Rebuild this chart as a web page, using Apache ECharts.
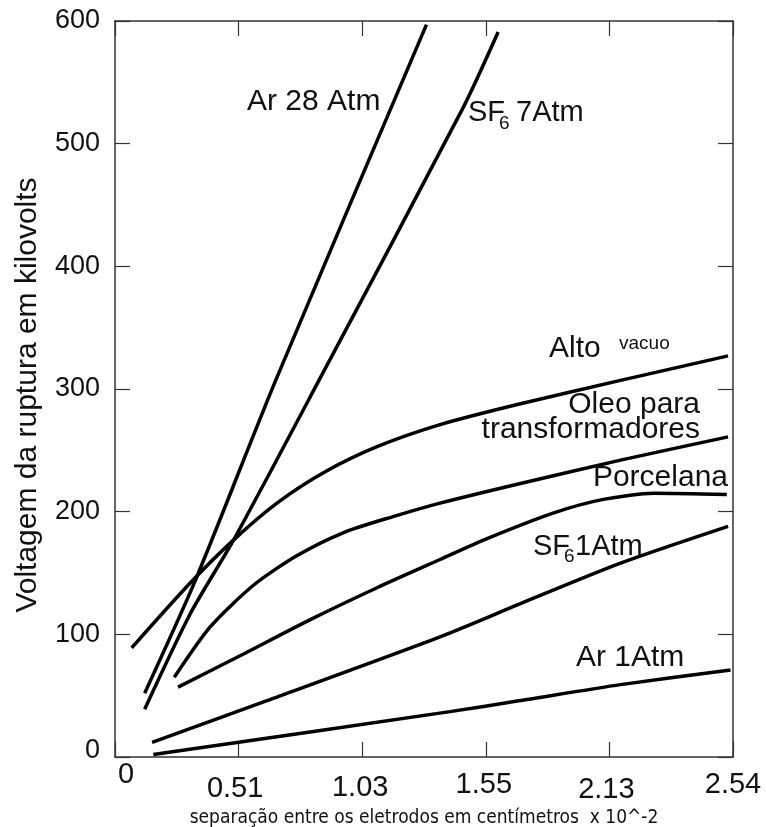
<!DOCTYPE html>
<html>
<head>
<meta charset="utf-8">
<script src="https://cdn.jsdelivr.net/npm/echarts@6/dist/echarts.min.js"></script>
<style>
  body { margin: 0; background: #fff; }
  #chart { width: 766px; height: 827px; }
</style>
</head>
<body>
<div id="chart"></div>
<script>
// x positions are in axis-step units (0..5), each step labelled by xTickLabels
const xTickLabels = ['0', '0.51', '1.03', '1.55', '2.13', '2.54'];

const ar28Atm = [[0.24, 52], [0.65, 144], [1.30, 307], [2.52, 597]];
const sf6_7Atm = [[0.24, 39], [0.61, 117], [0.96, 177], [1.65, 307], [2.82, 530], [3.10, 591]];
const altoVacuo = [[0.135, 89], [0.61, 142], [0.96, 177], [1.31, 207], [1.69, 232], [2.12, 253], [2.63, 271], [3.28, 288], [4.09, 307], [4.96, 327]];
const oleoTransf = [[0.48, 65], [0.77, 106], [1.12, 140], [1.47, 164], [1.85, 183], [2.25, 196], [2.63, 207], [3.28, 223], [4.09, 242], [4.96, 261]];
const porcelana = [[0.51, 57], [1.04, 84], [1.58, 112], [2.12, 138], [2.63, 161], [3.01, 178], [3.55, 199], [3.95, 210], [4.36, 215], [4.95, 214]];
const sf6_1Atm = [[0.30, 12], [1.23, 46], [2.63, 98], [3.28, 125], [4.09, 158], [4.96, 188]];
const ar1Atm = [[0.31, 2], [2.71, 37], [3.28, 46], [4.09, 59], [4.98, 71]];

const FONT = '"Liberation Sans", Arial, sans-serif';
const chart = echarts.init(document.getElementById('chart'));

// per-label nudges so the tick labels sit like the original scan
const xLabelRich = {
    t0: { padding: [0, 0, 0, 22] },
    t1: { padding: [27, 7, 0, 0] },
    t2: { padding: [25, 4, 0, 0] },
    t3: { padding: [19, 4, 0, 0] },
    t4: { padding: [29, 6, 0, 0] },
    t5: { padding: [19, 0, 0, 0] }
};
Object.keys(xLabelRich).forEach(k => {
    Object.assign(xLabelRich[k], { fontSize: 29, lineHeight: 30, fontFamily: FONT, color: '#111' });
});

const axisLine = { show: true, onZero: false, lineStyle: { color: '#333', width: 1.5 } };
const axisTick = { show: true, inside: true, length: 15, lineStyle: { color: '#333', width: 1.2 } };

function line(data) {
    return {
        type: 'line',
        data: data,
        smooth: 0.25,
        showSymbol: false,
        silent: true,
        lineStyle: { color: '#000', width: 3.5, cap: 'butt' }
    };
}

function label(text, x, y, size, align) {
    return {
        type: 'text',
        x: x,
        y: y,
        style: {
            text: text,
            fontSize: size,
            fontFamily: FONT,
            fill: '#111',
            align: align || 'left',
            verticalAlign: 'middle'
        }
    };
}

const option = {
    animation: false,
    grid: { left: 115, right: 33, top: 21, bottom: 70, containLabel: false, outerBoundsMode: 'none' },
    xAxis: [
        {
            type: 'value', min: 0, max: 5, interval: 1,
            axisLine: axisLine, axisTick: axisTick, splitLine: { show: false },
            axisLabel: {
                margin: 3,
                formatter: (v) => '{t' + v + '|' + xTickLabels[v] + '}',
                rich: xLabelRich
            },
            name: 'separação entre os eletrodos em centímetros  x 10^-2',
            nameLocation: 'middle',
            nameGap: 49,
            nameTextStyle: { fontSize: 19, fontFamily: '"Liberation Sans Narrow", "DejaVu Sans Condensed", ' + FONT, color: '#111' }
        },
        {
            type: 'value', position: 'top', min: 0, max: 5, interval: 1,
            axisLine: axisLine, axisTick: axisTick, axisLabel: { show: false }, splitLine: { show: false }
        }
    ],
    yAxis: [
        {
            type: 'value', min: 0, max: 600, interval: 100,
            axisLine: axisLine, axisTick: axisTick, splitLine: { show: false },
            axisLabel: {
                margin: 15, fontSize: 27, fontFamily: FONT, color: '#111',
                formatter: (v) => v === 0 ? '{z|0}' : String(v),
                rich: { z: { fontSize: 27, fontFamily: FONT, color: '#111', padding: [0, 0, 12, 0] } }
            },
            name: 'Voltagem da ruptura em kilovolts',
            nameLocation: 'middle',
            nameGap: 72,
            nameTextStyle: { fontSize: 30, fontFamily: FONT, color: '#111', padding: [0, 12, 0, 0] }
        },
        {
            type: 'value', position: 'right', min: 0, max: 600, interval: 100,
            axisLine: axisLine, axisTick: axisTick, axisLabel: { show: false }, splitLine: { show: false }
        }
    ],
    series: [
        line(ar28Atm),
        line(sf6_7Atm),
        line(altoVacuo),
        line(oleoTransf),
        line(porcelana),
        line(sf6_1Atm),
        line(ar1Atm)
    ],
    graphic: [
        label('Ar 28 Atm', 247, 102, 30),
        label('SF', 468, 113, 29),
        label('6', 499, 124, 19),
        label('7Atm', 516, 113, 29),
        label('Alto', 549, 349, 30),
        label('vacuo', 619, 344, 19),
        label('Oleo para', 700, 405, 30, 'right'),
        label('transformadores', 700, 430, 30, 'right'),
        label('Porcelana', 728, 478, 30, 'right'),
        label('SF', 533, 547, 29),
        label('6', 564, 557, 19),
        label('1Atm', 575, 547, 29),
        label('Ar 1Atm', 576, 658, 30)
    ]
};

chart.setOption(option);
</script>
</body>
</html>
